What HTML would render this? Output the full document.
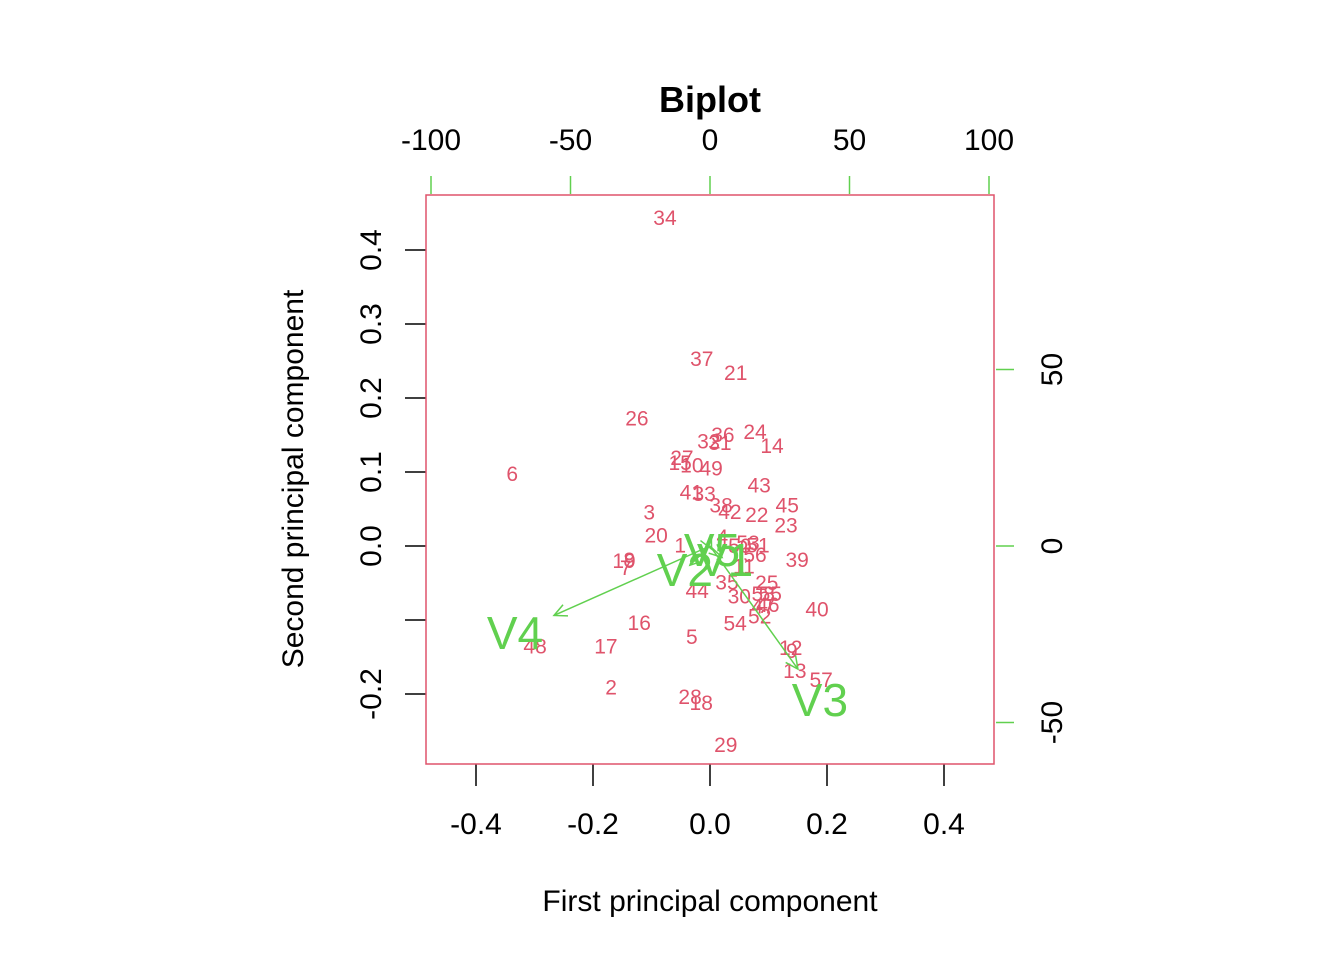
<!DOCTYPE html>
<html><head><meta charset="utf-8"><style>
html,body{margin:0;padding:0;background:#fff}
svg{display:block;font-family:"Liberation Sans",sans-serif}
</style></head><body>
<svg id="chart" width="1344" height="960" xmlns="http://www.w3.org/2000/svg"></svg>
<script>
const pointLabels=["34","37","21","26","6","36","24","32","31","14","27","15","10","49","43","41","33","38","42","22","45","23","3","20","1","4","53","51","50","56","39","19","8","7","11","44","35","25","30","58","55","46","47","52","40","54","16","5","17","48","12","9","13","57","2","28","18","29"];
const pcX=[-0.077,-0.014,0.044,-0.125,-0.338,0.022,0.077,-0.002,0.017,0.106,-0.048,-0.051,-0.031,0.002,0.084,-0.032,-0.010,0.019,0.034,0.080,0.132,0.130,-0.104,-0.092,-0.051,0.021,0.065,0.082,0.051,0.077,0.149,-0.147,-0.138,-0.144,0.058,-0.022,0.029,0.097,0.050,0.091,0.103,0.099,0.091,0.085,0.183,0.043,-0.121,-0.031,-0.178,-0.299,0.138,0.140,0.145,0.190,-0.169,-0.034,-0.015,0.027];
const pcY=[0.443,0.253,0.234,0.172,0.097,0.150,0.154,0.141,0.139,0.135,0.119,0.112,0.109,0.105,0.082,0.072,0.070,0.055,0.046,0.042,0.055,0.028,0.045,0.014,0.001,0.012,0.004,0.001,0.000,-0.012,-0.019,-0.020,-0.019,-0.030,-0.028,-0.061,-0.049,-0.050,-0.068,-0.065,-0.065,-0.080,-0.082,-0.095,-0.086,-0.105,-0.104,-0.123,-0.136,-0.136,-0.138,-0.142,-0.169,-0.181,-0.191,-0.204,-0.212,-0.269];
const varNames=["V1","V2","V3","V4","V5"];
const loadX=[5.4,-9,39.4,-69.9,0.7];
const loadY=[-4,-6.8,-43.6,-24.6,-1.1];
const bottomTicks=[-0.4,-0.2,0.0,0.2,0.4];
const leftTicks=[-0.2,-0.1,0.0,0.1,0.2,0.3,0.4];
const leftTickLabels=["-0.2","","0.0","0.1","0.2","0.3","0.4"];
const topTicks=[-100,-50,0,50,100];
const rightTicks=[-50,0,50];

const svg=document.getElementById('chart');
const NS="http://www.w3.org/2000/svg";
const RED="#DF536B",GREEN="#61D04F";
const sx=v=>710+v*585, sy=v=>546-v*740;
const tx=v=>710+v*2.79, ty=v=>546-v*3.53;
function mk(tag,attrs,parent){const e=document.createElementNS(NS,tag);for(const k in attrs)e.setAttribute(k,attrs[k]);(parent||svg).appendChild(e);return e;}
function txt(s,attrs){const e=mk('text',attrs);e.textContent=s;return e;}

let t=txt("Biplot",{x:710,y:112,'text-anchor':'middle','font-size':36,'font-weight':'bold',fill:'#000'});

t=txt("First principal component",{x:710,y:911,'text-anchor':'middle','font-size':30,fill:'#000'});

t=txt("Second principal component",{x:303,y:479,'text-anchor':'middle','font-size':30,fill:'#000',transform:'rotate(-90 303 479)'});


bottomTicks.forEach(v=>{const x=sx(v);
 const l=mk('line',{x1:x,x2:x,y1:764,y2:786,stroke:'#000','stroke-width':1.5});
 
 const s=txt(v.toFixed(1),{x:x,y:834,'text-anchor':'middle','font-size':30});
 });
leftTicks.forEach((v,i)=>{const y=sy(v);
 const l=mk('line',{x1:405,x2:426,y1:y,y2:y,stroke:'#000','stroke-width':1.5});
 
 if(leftTickLabels[i]){const s=txt(leftTickLabels[i],{x:381,y:y,'text-anchor':'middle','font-size':30,transform:`rotate(-90 381 ${y})`});
 }});
topTicks.forEach(v=>{const x=tx(v);
 const l=mk('line',{x1:x,x2:x,y1:176,y2:194,stroke:GREEN,'stroke-width':1.5});
 
 const s=txt(String(v),{x:x,y:150,'text-anchor':'middle','font-size':30});
 });
rightTicks.forEach(v=>{const y=ty(v);
 const l=mk('line',{x1:996,x2:1014,y1:y,y2:y,stroke:GREEN,'stroke-width':1.5});
 
 const s=txt(String(v),{x:1062,y:y,'text-anchor':'middle','font-size':30,transform:`rotate(-90 1062 ${y})`});
 });

const box=mk('rect',{x:426,y:195,width:568,height:569,fill:'none',stroke:RED,'stroke-width':1.5});


pointLabels.forEach((lab,i)=>{
 const s=txt(lab,{x:sx(pcX[i]),y:sy(pcY[i])+7,'text-anchor':'middle','font-size':21,fill:RED});
 });

varNames.forEach((n,i)=>{
 const x0=tx(0),y0=ty(0),x1=tx(loadX[i]*0.8),y1=ty(loadY[i]*0.8);
 const l=mk('line',{x1:x0,y1:y0,x2:x1,y2:y1,stroke:GREEN,'stroke-width':1.5});
 
 const a=Math.atan2(y1-y0,x1-x0),h=14,sp=0.45;
 const p=mk('polyline',{points:`${x1-h*Math.cos(a-sp)},${y1-h*Math.sin(a-sp)} ${x1},${y1} ${x1-h*Math.cos(a+sp)},${y1-h*Math.sin(a+sp)}`,fill:'none',stroke:GREEN,'stroke-width':1.5});
 
 const s=txt(n,{x:tx(loadX[i]),y:ty(loadY[i])+16,'text-anchor':'middle','font-size':46,fill:GREEN});
 });
</script>
</body></html>
